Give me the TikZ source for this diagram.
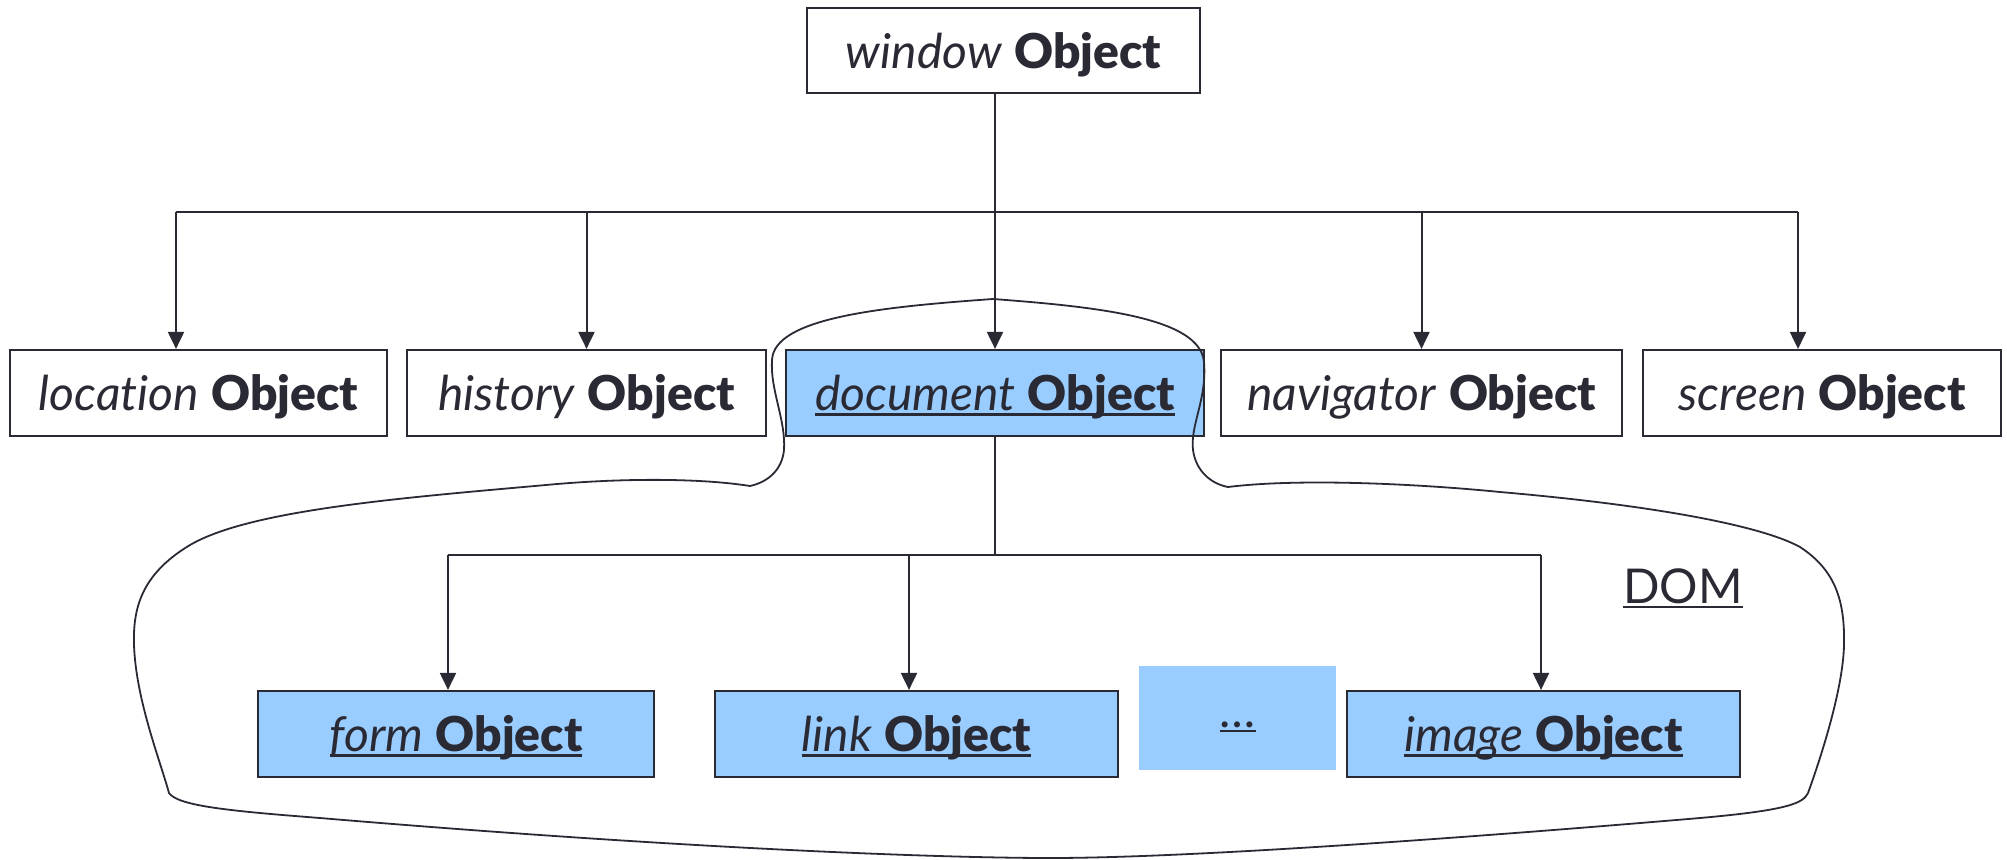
\documentclass[tikz,border=0pt]{standalone}
\usepackage{fontspec}
\setmainfont{Lato}[BoldFont={Lato Black}, Ligatures={NoCommon}]
\usetikzlibrary{arrows.meta}
\definecolor{ink}{HTML}{2A2A35}
\definecolor{boxblue}{HTML}{99CCFF}
\newcommand\myul[1]{\setbox0\hbox{#1}\rlap{\rule[-0.11em]{\wd0}{0.05em}}\box0}
\tikzset{
  obj/.style={draw=ink, line width=2.2pt, minimum height=86pt, inner sep=0pt,
    text height=35pt, text depth=0pt, font=\fontsize{48}{56}\selectfont, text=ink},
  domobj/.style={obj, fill=boxblue},
  conn/.style={draw=ink, line width=2pt},
  arr/.style={conn, -{Triangle[length=17pt,width=16pt]}},
  outline/.style={draw=ink, line width=1.8pt}
}
\begin{document}
\begin{tikzpicture}[x=1pt,y=-1pt]
\useasboundingbox (0,0) rectangle (2007,859);
% top
\node[obj, minimum width=393pt, minimum height=85pt] (win) at (1003.5,50.5) {\textit{window} \textbf{Object}};
% row 2
\node[obj, minimum width=377pt] (loc) at (198.5,393) {\textit{location} \textbf{Object}};
\node[obj, minimum width=359pt] (his) at (586.5,393) {\textit{history} \textbf{Object}};
\node[domobj, minimum width=418pt] (doc) at (995,393) {\myul{\textit{document} \textbf{Object}}};
\node[obj, minimum width=401pt] (nav) at (1421.5,393) {\textit{navigator} \textbf{Object}};
\node[obj, minimum width=358pt] (scr) at (1822,393) {\textit{screen} \textbf{Object}};
% row 3
\node[domobj, minimum width=396pt] (form) at (456,734) {\myul{\textit{form} \textbf{Object}}};
\node[domobj, minimum width=403pt] (lnk) at (916.5,734) {\myul{\textit{link} \textbf{Object}}};
\node[fill=boxblue, minimum width=197pt, minimum height=104pt, inner sep=0pt,
      text height=18pt, text depth=0pt, text=ink, font=\fontsize{48}{56}\selectfont] (dots) at (1237.5,718) {\myul{…}};
\node[domobj, minimum width=393pt] (img) at (1543.5,734) {\myul{\textit{image} \textbf{Object}}};
% DOM label
\node[anchor=base west, inner sep=0pt, text=ink, font=\fontsize{48}{56}\selectfont] (domlbl) at (1623,603) {\myul{DOM}};
% connectors top level
\coordinate (bL) at (176,212);
\coordinate (bR) at (1798,212);
\draw[conn] (bL) -- (bR);
\draw[arr] (bL) -- (bL |- loc.north);
\draw[arr] (his.north |- bL) -- (his.north);
\draw[arr] (win.south -| doc.north) -- (doc.north);
\draw[arr] (nav.north |- bL) -- (nav.north);
\draw[arr] (bR) -- (bR |- scr.north);
% connectors DOM level
\coordinate (cL) at (448,555);
\coordinate (cM) at (909,555);
\coordinate (cR) at (1541,555);
\draw[conn] (doc.south) -- (doc.south |- cL);
\draw[conn] (cL) -- (cR);
\draw[arr] (cL) -- (cL |- form.north);
\draw[arr] (cM) -- (cM |- lnk.north);
\draw[arr] (cR) -- (cR |- img.north);
% DOM outline
\draw[outline] (993,299)
  .. controls (1100,307) and (1200,318) .. (1204,362)
  .. controls (1207,400) and (1190,425) .. (1193,450)
  .. controls (1196,472) and (1212,484) .. (1228,487)
  .. controls (1300,478) and (1420,484) .. (1500,492)
  .. controls (1650,505) and (1760,525) .. (1800,547)
  .. controls (1835,570) and (1845,600) .. (1844,645)
  .. controls (1843,690) and (1820,760) .. (1808,793)
  .. controls (1803,803) and (1790,810) .. (1700,818)
  .. controls (1500,835) and (1200,858) .. (1050,858)
  .. controls (950,858) and (700,850) .. (320,818)
  .. controls (230,811) and (178,806) .. (169,793)
  .. controls (160,760) and (136,700) .. (134,645)
  .. controls (133,610) and (140,575) .. (190,545)
  .. controls (250,510) and (400,498) .. (546,485)
  .. controls (620,478) and (700,478) .. (750,486)
  .. controls (768,482) and (782,470) .. (784,450)
  .. controls (786,420) and (770,390) .. (772,360)
  .. controls (774,318) and (880,307) .. (993,299) -- cycle;
\end{tikzpicture}
\end{document}
